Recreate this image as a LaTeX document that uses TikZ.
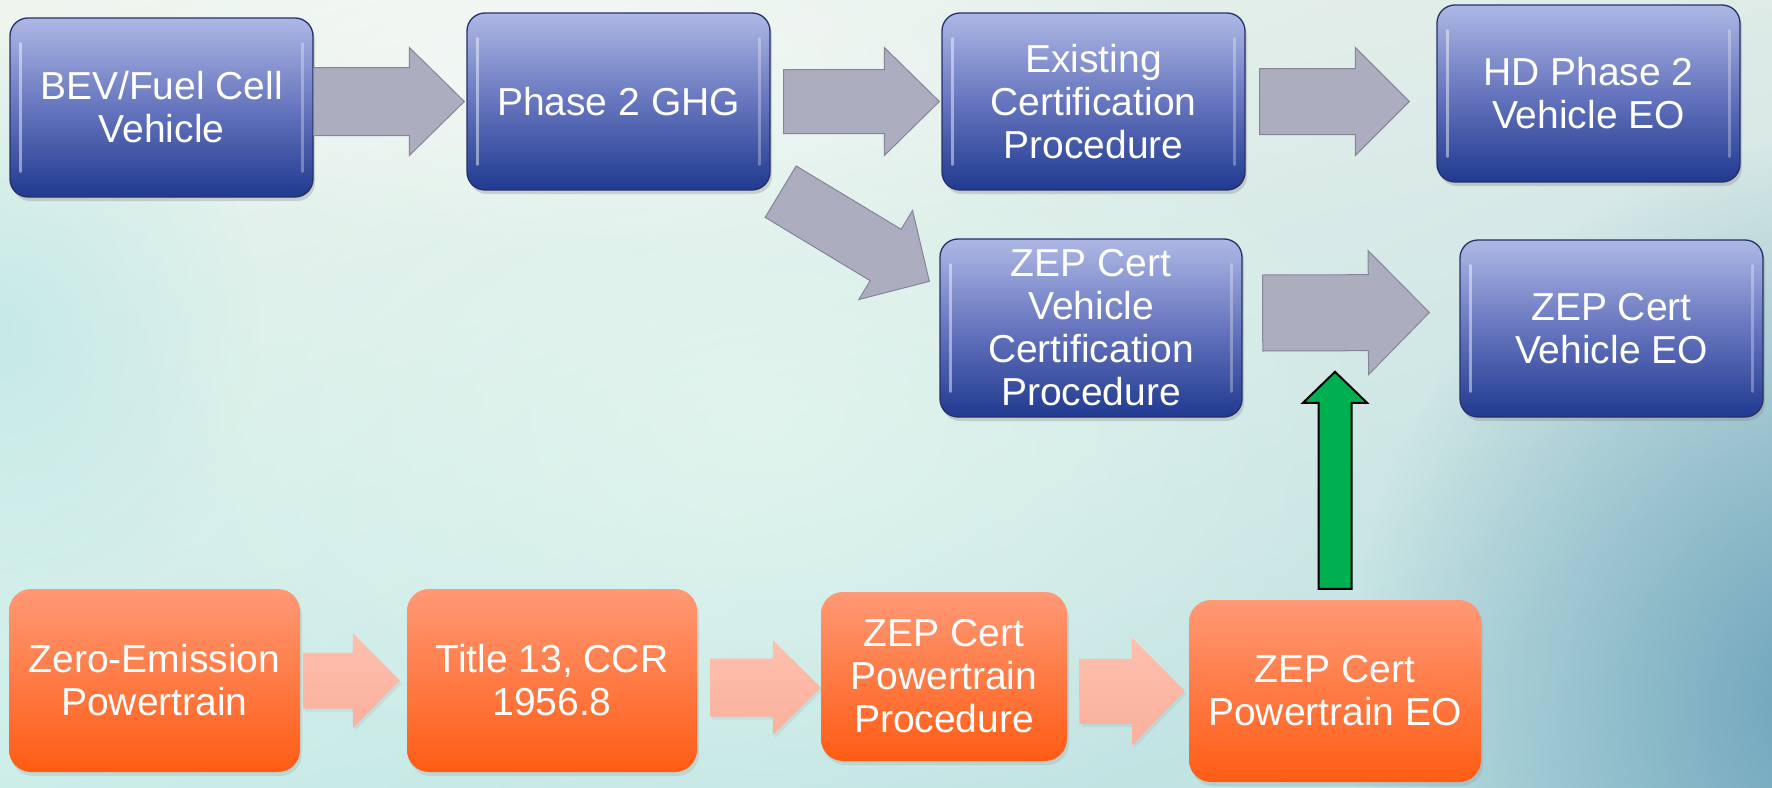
\documentclass[tikz,border=0pt]{standalone}
\usepackage{fontspec}
\setmainfont{Liberation Sans}
\usetikzlibrary{calc,shadows,fadings,shadings}
\definecolor{bgUL}{RGB}{238,245,238}
\definecolor{bgUR}{RGB}{222,235,231}
\definecolor{bgLL}{RGB}{204,238,233}
\definecolor{bgLR}{RGB}{186,222,224}
\definecolor{bgTeal}{RGB}{100,156,182}
\definecolor{bgCyan}{RGB}{180,228,228}
\definecolor{bgMint}{RGB}{230,248,240}
\definecolor{blueTop}{RGB}{174,184,229}
\definecolor{blueMid}{RGB}{102,117,190}
\definecolor{blueBot}{RGB}{32,58,144}
\definecolor{blueLine}{RGB}{38,48,104}
\definecolor{orTop}{RGB}{255,153,118}
\definecolor{orBot}{RGB}{255,92,20}
\definecolor{salTop}{RGB}{254,192,174}
\definecolor{salBot}{RGB}{250,176,156}
\definecolor{arrGray}{RGB}{172,173,190}
\definecolor{arrGrayLine}{RGB}{132,134,152}
\definecolor{arrGreen}{RGB}{0,176,80}
\tikzfading[name=glowfade, inner color=transparent!0, outer color=transparent!100]
\newcommand{\blockarr}[6]{%
  \coordinate (ba-s) at #2;
  \coordinate (ba-e) at #3;
  \coordinate (ba-h) at ($(ba-e)!#6pt!(ba-s)$);
  \path[#1] ($(ba-s)!#4pt!90:(ba-e)$) -- ($(ba-h)!#4pt!90:(ba-e)$)
    -- ($(ba-h)!#5pt!90:(ba-e)$) -- (ba-e) -- ($(ba-h)!#5pt!-90:(ba-e)$)
    -- ($(ba-h)!#4pt!-90:(ba-e)$) -- ($(ba-s)!#4pt!-90:(ba-e)$) -- cycle;
}
\newcommand{\gloss}[1]{%
  \draw[white, opacity=0.45, line width=2.5, line cap=round]
    ($(#1.north west)+(11,26)$) -- ($(#1.south west)+(11,-26)$);
  \draw[white, opacity=0.3, line width=2.5, line cap=round]
    ($(#1.north east)+(-11,26)$) -- ($(#1.south east)+(-11,-26)$);
}
\tikzset{
  boxtext/.style={text=white, align=center, inner sep=0,
    font=\fontsize{39}{43}\selectfont},
  bluebox/.style={boxtext, rounded corners=18, draw=blueLine, line width=1.3,
    top color=blueTop, bottom color=blueBot, middle color=blueMid,
    minimum width=303, minimum height=177,
    drop shadow={shadow xshift=2pt, shadow yshift=-4pt, opacity=0.3}},
  orbox/.style={boxtext, rounded corners=22, draw=none,
    top color=orTop, bottom color=orBot,
    minimum width=291, minimum height=183,
    drop shadow={shadow xshift=2pt, shadow yshift=-4pt, opacity=0.18}},
  grayarr/.style={fill=arrGray, draw=arrGrayLine, line width=1},
  salarr/.style={top color=salTop, bottom color=salBot, draw=none,
    drop shadow={shadow xshift=2pt, shadow yshift=-3pt, opacity=0.12}},
  greenarr/.style={fill=arrGreen, draw=black, line width=2, line join=miter},
}
\begin{document}
\begin{tikzpicture}[x=1pt, y=-1pt]
\useasboundingbox (0,0) rectangle (1772,787);
% background
\begin{scope}
\clip (0,0) rectangle (1772,787);
\shade[upper left=bgUL, upper right=bgUR, lower left=bgLL, lower right=bgLR]
  (0,0) rectangle (1772,787);
\fill[bgTeal, opacity=0.9, path fading=glowfade] (1830,700) ellipse [x radius=480, y radius=560];
\fill[bgCyan, opacity=0.6, path fading=glowfade] (0,330) ellipse [x radius=260, y radius=300];
\fill[bgMint, opacity=0.7, path fading=glowfade] (760,420) ellipse [x radius=640, y radius=420];
\fill[white, opacity=0.5, path fading=glowfade] (600,60) ellipse [x radius=650, y radius=200];
\end{scope}

% blue boxes
\node[bluebox, minimum height=179] (bev) at (161.5,107.5) {BEV/Fuel Cell\\Vehicle};
\node[bluebox] (p2) at (618.5,101.5) {Phase 2 GHG};
\node[bluebox] (ex) at (1093.5,101.5) {Existing\\Certification\\Procedure};
\node[bluebox] (hd) at (1588.5,93.5) {HD Phase 2\\Vehicle EO};
\node[bluebox, minimum width=302, minimum height=178] (zvc) at (1091,328) {ZEP Cert\\Vehicle\\Certification\\Procedure};
\node[bluebox] (zeo) at (1611.5,328.5) {ZEP Cert\\Vehicle EO};
\gloss{bev}\gloss{p2}\gloss{ex}\gloss{hd}\gloss{zvc}\gloss{zeo}

% orange boxes
\node[orbox] (ze) at (154.5,680.5) {Zero-Emission\\Powertrain};
\node[orbox, minimum width=290] (t13) at (552,680.5) {Title 13, CCR\\1956.8};
\node[orbox, minimum width=246, minimum height=169] (ptp) at (944,676.5) {ZEP Cert\\Powertrain\\Procedure};
\node[orbox, minimum width=292, minimum height=182] (pteo) at (1335,691) {ZEP Cert\\Powertrain EO};

% gray arrows
\blockarr{grayarr}{(bev.east |- p2.west)}{($(p2.west)+(-2,0)$)}{34}{54}{55}
\blockarr{grayarr}{($(p2.east)+(13,0)$)}{($(ex.west)+(-2,0)$)}{32}{54}{55}
\blockarr{grayarr}{($(ex.east)+(14,0)$)}{($(hd.west |- ex.east)+(-27,0)$)}{33}{54}{54}
\blockarr{grayarr}{($(p2.south east)+(10,1)$)}{($(zvc.north west)+(-10,43)$)}{30}{52}{51}
\blockarr{grayarr}{($(zvc.east)+(20,-15)$)}{($(zeo.west)+(-30,-16)$)}{38}{62}{61}

% salmon arrows
\blockarr{salarr}{($(ze.east)+(3,0)$)}{($(t13.west)+(-7,0)$)}{28}{47.5}{47}
\blockarr{salarr}{($(t13.east)+(13,7)$)}{($(ptp.west)+(0,11)$)}{29}{47.5}{48}
\blockarr{salarr}{($(ptp.east)+(12,15)$)}{($(pteo.west)+(-4,0)$)}{32.5}{54}{53}

% green arrow
\coordinate (gtip) at ($(pteo.north)+(0,-228)$);
\blockarr{greenarr}{($(pteo.north)+(0,-11)$)}{(gtip)}{16.5}{32}{31}
\end{tikzpicture}
\end{document}
